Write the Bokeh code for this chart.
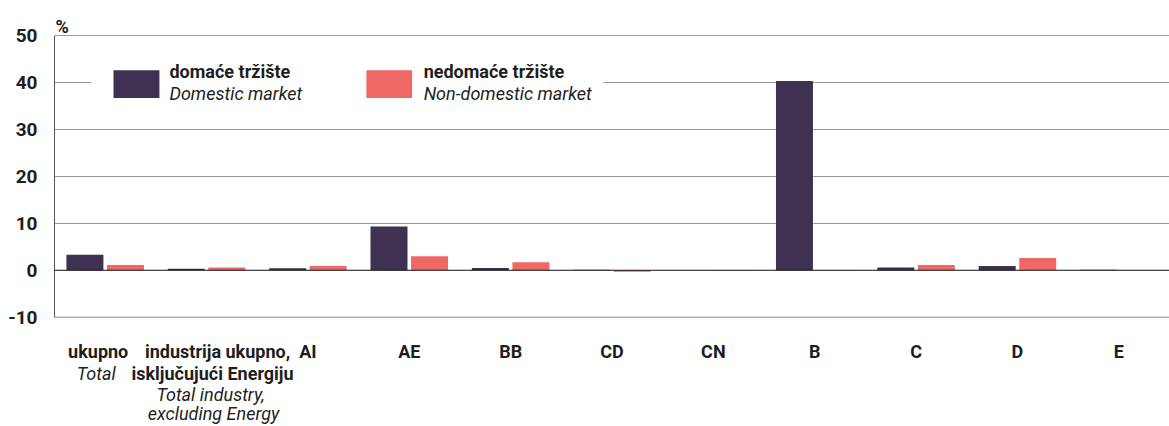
import numpy as np
from bokeh.plotting import figure
from bokeh.models import (ColumnDataSource, Range1d, FixedTicker, Span, Label,
                          BoxAnnotation)
from bokeh.transform import dodge
from bokeh.embed import file_html
from bokeh.resources import INLINE

# ---- data ----
categories = ["ukupno", "industrija ukupno", "AI", "AE", "BB", "CD", "CN", "B", "C", "D", "E"]
label_bold = [["ukupno"], ["industrija ukupno,", "isključujući Energiju"], ["AI"], ["AE"], ["BB"],
              ["CD"], ["CN"], ["B"], ["C"], ["D"], ["E"]]
label_italic = [["Total"], ["Total industry,", "excluding Energy"], [], [], [], [], [], [], [], [], []]
domestic = [3.3, 0.3, 0.4, 9.3, 0.5, 0.1, 0.0, 40.3, 0.6, 0.9, 0.1]
non_domestic = [1.1, 0.6, 0.9, 3.0, 1.7, -0.3, -0.1, -0.1, 1.1, 2.6, 0.0]
y_ticks = [-10, 0, 10, 20, 30, 40, 50]
y_tick_labels = {-10: "-10", 0: "0", 10: "10", 20: "20", 30: "30", 40: "40", 50: "50"}
grid_ticks = [10, 20, 30, 40]
legend_bold = ["domaće tržište", "nedomaće tržište"]
legend_italic = ["Domestic market", "Non-domestic market"]

DOM = "#3f3151"
NON = "#ee6866"
FONT = "Roboto"
TXT = "#1e1e1e"

n = len(categories)
src = ColumnDataSource(dict(x=np.arange(n) + 0.5, dom=domestic, non=non_domestic))

W, H = 1169, 426
PX_PER_UNIT = 281.7 / 60.0
TOP_PX = 35.0
y_top = 50 + TOP_PX / PX_PER_UNIT
y_bot = -10 - (H - (TOP_PX + 281.7)) / PX_PER_UNIT

p = figure(width=W, height=H, output_backend="svg", toolbar_location=None,
           x_range=Range1d(0, n), y_range=Range1d(y_bot, y_top),
           x_axis_location=None, min_border_left=54, min_border_right=0,
           min_border_top=0, min_border_bottom=0)
p.outline_line_color = None
p.background_fill_color = "white"
p.border_fill_color = "white"

p.vbar(x=dodge("x", -0.2, range=p.x_range), top="dom", width=0.365, source=src,
       fill_color=DOM, line_color=None)
p.vbar(x=dodge("x", 0.2, range=p.x_range), top="non", width=0.365, source=src,
       fill_color=NON, line_color=None)

# y axis
ax = p.yaxis[0]
ax.ticker = FixedTicker(ticks=y_ticks)
ax.bounds = (-10, 50)
ax.major_label_overrides = y_tick_labels
ax.major_tick_out = 0
ax.major_tick_in = 0
ax.minor_tick_out = 0
ax.minor_tick_in = 0
ax.axis_line_color = "#555555"
ax.major_label_standoff = 17
ax.major_label_text_font = FONT
ax.major_label_text_font_size = "19px"
ax.major_label_text_font_style = "bold"
ax.major_label_text_color = TXT

p.xgrid.visible = False
p.ygrid.ticker = FixedTicker(ticks=grid_ticks)
p.ygrid.grid_line_color = "#9a9a9a"
p.ygrid.grid_line_width = 1

p.add_layout(Span(location=50, dimension="width", line_color="#9a9a9a", line_width=1))
p.add_layout(Span(location=-10, dimension="width", line_color="#b0b0b0", line_width=1.5))
p.add_layout(Span(location=0, dimension="width", line_color="#111111", line_width=1))

# legend area (white background breaks the 40 gridline)
p.add_layout(BoxAnnotation(left=0.365, right=5.414, bottom=38.0, top=42.0,
                           fill_color="white", fill_alpha=1.0, line_color=None))
sw_left = [0.582, 3.077]
sw_right = [1.035, 3.528]
txt_left = [1.134, 3.642]
for col, l, r, tl, b, it in zip([DOM, NON], sw_left, sw_right, txt_left, legend_bold, legend_italic):
    p.add_layout(BoxAnnotation(left=l, right=r, bottom=36.7, top=42.6,
                               fill_color=col, fill_alpha=1.0, line_color=None))
    p.add_layout(Label(x=tl, y=42.4, text=b, text_font=FONT, text_font_size="18px",
                       text_font_style="bold", text_color=TXT, text_baseline="middle",
                       text_align="left"))
    p.add_layout(Label(x=tl, y=37.7, text=it, text_font=FONT, text_font_size="18px",
                       text_font_style="italic", text_color=TXT, text_baseline="middle",
                       text_align="left"))

# unit label
p.add_layout(Label(x=0, y=50, x_offset=1, y_offset=9, text="%", text_font=FONT,
                   text_font_size="18px", text_font_style="bold", text_color=TXT,
                   text_baseline="alphabetic", text_align="left"))

# category labels
line_offsets = [-34, -56.5, -77.5, -96.5]
x_shift = {0: [-7, -9], 1: [11, 6, 4, 7]}
for i in range(n):
    lines = [(t, "bold") for t in label_bold[i]] + [(t, "italic") for t in label_italic[i]]
    shifts = x_shift.get(i, [0] * len(lines))
    for k, (t, style) in enumerate(lines):
        p.add_layout(Label(x=i + 0.5, y=-10, x_offset=shifts[k], y_offset=line_offsets[k],
                           text=t, text_font=FONT, text_font_size="18px",
                           text_font_style=style, text_color=TXT,
                           text_align="center", text_baseline="alphabetic"))

open("out.html", "w").write(file_html(p, INLINE))
